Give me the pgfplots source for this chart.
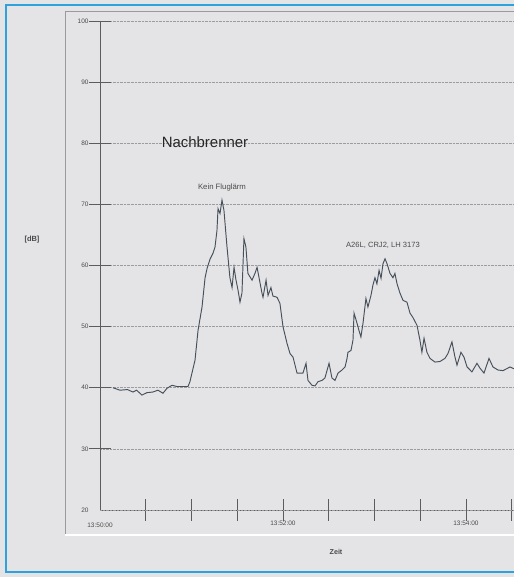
\documentclass[border=0pt]{standalone}
\usepackage{pgfplots}
\pgfplotsset{compat=1.18}
\usepackage{fontspec}
\setmainfont{Liberation Sans}
\definecolor{bg}{HTML}{E4E4E6}
\definecolor{bord}{HTML}{2EA2DC}
\definecolor{frame}{HTML}{9A9A9C}
\definecolor{axc}{HTML}{5C5C60}
\definecolor{curve}{HTML}{46515C}
\definecolor{gridc}{HTML}{9C9C9E}
\definecolor{txt}{HTML}{4A4A4A}
\begin{document}
\begin{tikzpicture}[x=1bp,y=1bp]
\fill[bg] (0,0) rectangle (514,577);
% blue border
\draw[bord, line width=2bp] (514,5) -- (6,5) -- (6,572) -- (514,572);
% inner frame
\draw[frame, line width=0.9bp] (65,42) -- (65,566) -- (514,566);
\draw[white, line width=1.2bp] (65,42) -- (514,42);
\begin{axis}[
  at={(100bp,67bp)}, anchor=south west,
  scale only axis, width=414bp, height=489bp,
  xmin=0, xmax=271.5, ymin=20, ymax=100,
  axis x line=bottom, axis y line=left,
  axis line style={-, axc, line width=0.9bp},
  ytick={30,40,...,100},
  xtick={30,60,...,270},
  xticklabels={,,,13:52:00,,,,13:54:00,},
  extra x ticks={0}, extra x tick labels={13:50:00},
  extra x tick style={major tick length=0pt, xticklabel style={yshift=-13bp}},
  extra y ticks={20}, extra y tick labels={20},
  extra y tick style={major tick length=0pt, yticklabel style={xshift=-11bp}},
  tick align=center, major tick length=22bp,
  tick style={axc, line width=0.9bp},
  ymajorgrids, grid style={gridc, densely dotted, line width=0.5bp},
  tick label style={font=\fontsize{6.5}{7}\selectfont, text=txt},
  /pgf/number format/assume math mode=true,
  yticklabel style={xshift=3bp},
  xticklabel style={yshift=4bp},
  clip=false,
]
\addplot[curve, line width=0.95bp] coordinates {
(8.5,40.0) (13.1,39.6) (18,39.7) (21.6,39.3) (24,39.6) (27.5,38.8) (30.8,39.2)
(34.7,39.3) (38,39.6) (41.3,39.1) (43.9,39.9) (47.2,40.4) (50.5,40.2) (54.1,40.2)
(57.7,40.2) (59.0,41.0) (60.3,42.4) (62.3,44.5) (64.3,49.4) (66.9,53.2) (68.9,58.0)
(70.2,59.5) (72.1,61.0) (74.1,62.0) (75.4,63.0) (76.7,65.7) (77.4,69.3) (78.7,68.5)
(80.0,70.7) (81.3,69.0) (83.3,63.0) (85.2,58.0) (86.6,56.4) (87.9,59.7) (89.2,57.6)
(90.5,56.0) (91.8,54.0) (93.1,55.5) (94.4,64.4) (95.7,63.0) (97.0,58.7) (99.7,57.6)
(101.6,58.7) (103.0,59.7) (104.3,58.0) (106.2,55.5) (106.9,54.8) (108.9,57.6)
(110.2,55.1) (112.1,56.4) (113.4,55.0) (116.1,54.8) (118.0,53.8) (120.0,50.0)
(122.6,47.3) (124.6,45.6) (126.6,45.0) (129.2,42.4) (131.1,42.4) (133.1,42.4)
(135.1,44.0) (136.4,41.2) (139.0,40.4) (141.0,40.3) (143.0,41.0) (145.6,41.2)
(147.5,41.6) (150.2,44.0) (152.1,41.6) (154.1,41.2) (156.1,42.4) (158.7,42.9)
(160.7,43.4) (162.0,44.8) (162.6,45.8) (164.6,46.1) (165.9,47.8) (166.6,52.2)
(168.5,50.6) (169.8,49.4) (171.1,48.3) (172.5,50.6) (173.1,51.9) (174.4,54.6)
(175.7,53.2) (177.7,55.1) (179.0,56.8) (180.3,58.0) (181.6,57.0) (183.0,59.2)
(184.3,57.9) (185.6,60.3) (186.9,61.1) (188.2,60.3) (190.2,58.7) (192.1,58.0)
(193.4,58.7) (194.8,57.0) (196.7,55.5) (198.7,54.3) (201.3,54.0) (203.3,52.2)
(205.2,51.5) (207.9,50.2) (209.8,47.8) (211.1,45.8) (212.5,48.1) (214.4,45.8)
(216.4,44.8) (219.7,44.2) (223.0,44.3) (226.2,44.8) (228.2,45.6) (230.8,47.5)
(232.8,45.0) (234.1,43.7) (236.7,45.8) (238.7,45.0) (240.7,43.4) (243.9,42.6)
(247.2,44.0) (249.2,43.2) (251.8,42.4) (255.1,44.8) (257.7,43.4) (261.0,42.9)
(264.3,42.8) (268.9,43.4) (271.5,43.1)
};
\end{axis}
\node[font=\fontsize{15}{17}\selectfont, text=black!85] at (205,435) {Nachbrenner};
\node[font=\fontsize{7.8}{9}\selectfont, text=txt] at (222,390) {Kein Fluglärm};
\node[font=\fontsize{7.6}{9}\selectfont, text=txt] at (383,332) {A26L, CRJ2, LH 3173};
\node[font=\bfseries\fontsize{7.5}{9}\selectfont, text=txt] at (32,337) {[dB]};
\node[font=\bfseries\fontsize{7.2}{9}\selectfont, text=txt] at (336,25) {Zeit};
\pgfresetboundingbox
\path (0,0) rectangle (514,577);
\end{tikzpicture}
\end{document}
